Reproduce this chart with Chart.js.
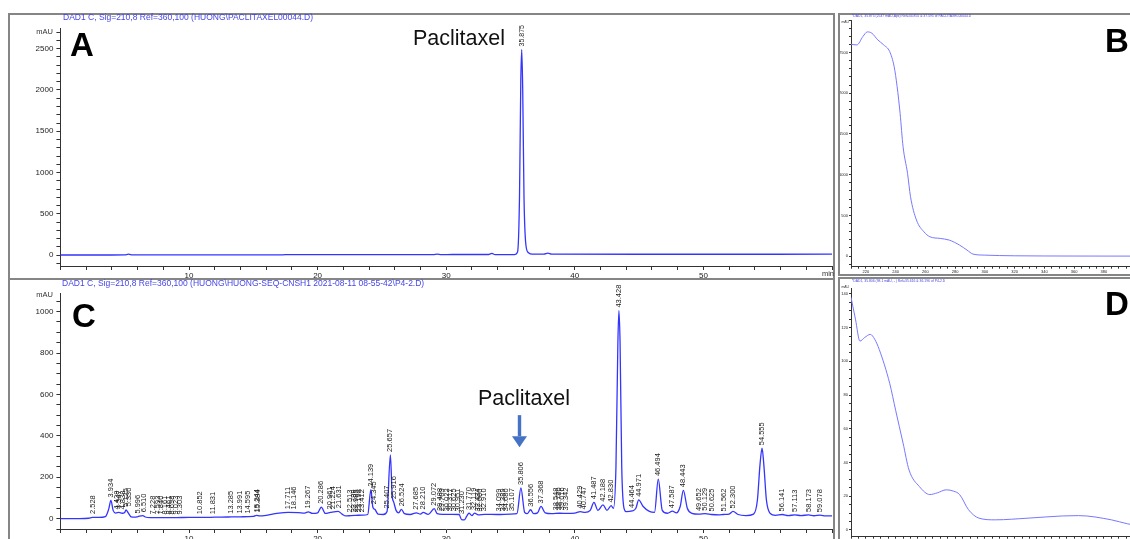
<!DOCTYPE html>
<html>
<head>
<meta charset="utf-8">
<script src="https://cdn.jsdelivr.net/npm/chart.js@4.4.1/dist/chart.umd.min.js"></script>
<style>
  html, body { margin: 0; padding: 0; background: #fff; }
  body { width: 1130px; height: 539px; position: relative; overflow: hidden; }
  canvas { position: absolute; }
  #overlay { left: 0; top: 0; pointer-events: none; z-index: 5; }
</style>
</head>
<body>
<canvas id="chartA" width="825" height="265" style="left:9px;top:14px"></canvas>
<canvas id="chartB" width="300" height="262" style="left:838px;top:14px"></canvas>
<canvas id="chartC" width="825" height="262" style="left:9px;top:281px"></canvas>
<canvas id="chartD" width="300" height="265" style="left:838px;top:279px"></canvas>
<canvas id="overlay" width="1130" height="539"></canvas>
<script>
// ---- data ----
// A: paclitaxel standard, 210 nm
const timeA = [0, 3.5, 5.0, 5.3, 5.6, 10, 17, 17.5, 25, 29.0,
  29.3, 29.6, 30.5, 33.3, 33.55, 33.8, 35.3, 35.55, 35.7, 35.8,
  35.875, 35.95, 36.05, 36.2, 36.4, 36.7, 37.6, 37.9, 38.2, 45,
  50, 60];
const signalA = [2, 2, 4, 12, 3, 3, 3, 6, 6, 7,
  12, 7, 8, 8, 22, 6, 6, 40, 700, 2100,
  2490, 2000, 700, 120, 30, 12, 12, 24, 12, 11,
  11, 12];
const peakTimesA = [35.875];
const peakLevelsA = [2490];

// C: sample extract, 210 nm
const timeC = [
  0, 1.5, 2.2, 2.5, 3.0, 3.5, 3.75, 3.93, 4.1, 4.3,
  4.55, 4.8, 5.0, 5.1, 5.25, 5.5, 5.8, 6.0, 6.4, 6.6,
  7.0, 8.0, 9.0, 10.0, 11.0, 12.0, 13.0, 14.0, 15.0, 15.25,
  15.5, 16.0, 16.5, 17.0, 17.7, 18.5, 19.0, 19.27, 19.6, 20.0,
  20.29, 20.6, 21.0, 21.6, 21.9, 22.2, 22.6, 23.0, 23.5, 23.9,
  24.14, 24.3, 24.45, 24.7, 25.1, 25.4, 25.66, 25.8, 25.92, 26.1,
  26.3, 26.52, 26.75, 27.2, 27.68, 28.0, 28.21, 28.6, 29.07, 29.3,
  29.7, 30.5, 31.0, 31.2, 31.4, 31.6, 31.77, 32.0, 32.2, 32.5,
  33.0, 34.0, 35.0, 35.5, 35.81, 36.1, 36.3, 36.56, 36.8, 37.1,
  37.37, 37.7, 38.2, 38.8, 39.5, 40.0, 40.43, 40.8, 41.2, 41.49,
  41.8, 42.19, 42.5, 42.83, 43.0, 43.2, 43.35, 43.43, 43.52, 43.65,
  43.85, 44.0, 44.46, 44.75, 44.97, 45.3, 45.8, 46.2, 46.49, 46.8,
  47.2, 47.59, 47.9, 48.2, 48.44, 48.75, 49.1, 49.65, 50.13, 50.63,
  51.2, 51.56, 52.0, 52.3, 52.7, 53.3, 53.9, 54.2, 54.4, 54.56,
  54.7, 54.9, 55.2, 55.6, 56.14, 56.6, 57.11, 57.6, 58.17, 58.6,
  59.08, 59.5, 60];
const signalC = [
  0, 0, 2, 6, 6, 10, 45, 88, 40, 27,
  30, 26, 30, 42, 30, 9, 7, 9, 15, 8,
  5, 5, 5, 6, 6, 7, 8, 9, 11, 16,
  13, 16, 22, 27, 30, 29, 27, 33, 25, 28,
  56, 25, 30, 35, 22, 13, 15, 16, 17, 20,
  140, 55, 45, 22, 20, 35, 308, 110, 80, 40,
  28, 45, 24, 20, 28, 22, 30, 21, 48, 24,
  21, 21, 20, -5, -6, 12, 27, 15, 27, 18,
  21, 20, 22, 24, 148, 30, 24, 43, 24, 28,
  59, 28, 24, 26, 25, 27, 34, 30, 40, 79,
  40, 67, 40, 63, 50, 250, 850, 1005, 850, 250,
  45, 34, 37, 50, 91, 60, 35, 30, 191, 40,
  26, 36, 28, 60, 137, 50, 26, 22, 24, 20,
  18, 20, 22, 35, 20, 15, 22, 90, 260, 340,
  260, 90, 25, 16, 20, 15, 18, 15, 18, 14,
  17, 13, 13];
const peakTimesC = [
  2.528, 3.934, 4.428, 4.547, 4.838, 5.125, 5.330, 5.996, 6.510, 7.228,
  7.593, 7.840, 8.161, 8.461, 8.698, 9.023, 9.303, 10.852, 11.831, 13.285,
  13.991, 14.595, 15.244, 15.384, 17.711, 18.146, 19.267, 20.286, 20.961, 21.224,
  21.631, 22.513, 22.789, 22.985, 23.198, 23.412, 24.139, 24.345, 25.407, 25.657,
  25.916, 26.524, 27.685, 28.210, 29.072, 29.488, 29.703, 30.022, 30.317, 30.625,
  30.951, 31.230, 31.770, 32.119, 32.434, 32.660, 32.910, 34.099, 34.389, 34.680,
  35.107, 35.806, 36.556, 37.368, 38.548, 38.780, 39.016, 39.342, 40.429, 40.747,
  41.487, 42.188, 42.830, 43.428, 44.464, 44.971, 46.494, 47.587, 48.443, 49.652,
  50.129, 50.625, 51.562, 52.300, 54.555, 56.141, 57.113, 58.173, 59.078];
const peakLevelsC = [
  8, 88, 30, 32, 30, 42, 45, 10, 16, 6,
  6, 6, 6, 6, 6, 6, 6, 7, 7, 9,
  10, 10, 17, 15, 31, 30, 34, 57, 30, 32,
  36, 15, 16, 16, 17, 17, 140, 55, 35, 308,
  80, 45, 28, 30, 48, 23, 21, 21, 21, 21,
  20, 8, 27, 27, 20, 20, 21, 20, 21, 21,
  22, 148, 43, 59, 25, 26, 26, 25, 34, 30,
  79, 67, 63, 1005, 37, 91, 191, 36, 137, 22,
  24, 20, 20, 35, 340, 20, 18, 18, 17];

// B, D: UV spectra at the peak apex
const waveB = [210, 214, 218, 221, 224, 228, 232, 236, 239, 241,
  243, 245, 248, 250, 254, 259, 263, 270, 276, 283,
  288, 292, 300, 320, 360, 400];
const absB = [2602, 2594, 2697, 2754, 2738, 2656, 2594, 2512, 2328, 2082,
  1754, 1344, 1016, 730, 443, 299, 238, 217, 197, 135,
  74, 25, 12, 4, 1, 0];
const waveD = [210, 213, 216, 219, 223, 226, 229, 236, 240, 245,
  249, 256, 263, 268, 274, 279, 283, 289, 296, 307,
  329, 352, 363, 385, 396, 400];
const absD = [138, 125, 112, 114, 116, 113, 107, 87, 71, 51.5,
  35.6, 25.7, 21, 22, 23.8, 23, 21, 12, 7, 6,
  7, 8.3, 8.5, 6, 3.6, 3];

// tick labels
const timeTickLabels = [10, 20, 30, 40, 50];
const mauTicksA = [0, 500, 1000, 1500, 2000, 2500];
const mauTicksC = [0, 200, 400, 600, 800, 1000];
const mauTicksB = [0, 500, 1000, 1500, 2000, 2500];
const mauTicksD = [0, 20, 40, 60, 80, 100, 120, 140];
const nmTickLabels = [220, 240, 260, 280, 300, 320, 340, 360, 380, 400];

const titleA = 'DAD1 C, Sig=210,8 Ref=360,100 (HUONG\\PACLITAXEL00044.D)';
const titleC = 'DAD1 C, Sig=210,8 Ref=360,100 (HUONG\\HUONG-SEQ-CNSH1 2021-08-11 08-55-42\\P4-2.D)';
const titleB = '*DAD1, 35.875 (2547 mAU,Apx) Ref=34.855 & 37.595 of PACLITAXEL00044.D';
const titleD = '*DAD1, 35.806 (98.1 mAU, - ) Ref=35.616 & 36.196 of P4-2.D';

// ---- drawing ----
const family = '"Liberation Sans", Arial, sans-serif';
const axisColor = '#333';

const peakLabels = {
  id: 'peakLabels',
  afterDatasetsDraw(chart, args, opts) {
    if (!opts.times) return;
    const ctx = chart.ctx, x = chart.scales.x, y = chart.scales.y;
    ctx.save();
    ctx.font = opts.font;
    ctx.fillStyle = opts.color;
    ctx.textAlign = 'left';
    ctx.textBaseline = 'middle';
    opts.times.forEach((t, i) => {
      ctx.save();
      ctx.translate(x.getPixelForValue(t), y.getPixelForValue(opts.levels[i]) - 3);
      ctx.rotate(-Math.PI / 2);
      ctx.fillText(t.toFixed(3), 0, 0);
      ctx.restore();
    });
    ctx.restore();
  }
};

const arrow = {
  id: 'arrow',
  afterDatasetsDraw(chart, args, a) {
    if (a.time === undefined) return;
    const ctx = chart.ctx, x = chart.scales.x, y = chart.scales.y;
    const xp = x.getPixelForValue(a.time);
    const y0 = y.getPixelForValue(a.from), y1 = y.getPixelForValue(a.to);
    ctx.save();
    ctx.fillStyle = a.color;
    ctx.fillRect(xp - 1.7, y0, 3.4, y1 - y0 - 11);
    ctx.beginPath();
    ctx.moveTo(xp - 7.5, y1 - 11);
    ctx.lineTo(xp + 7.5, y1 - 11);
    ctx.lineTo(xp, y1);
    ctx.closePath();
    ctx.fill();
    ctx.restore();
  }
};

function axis(o) {
  return {
    type: 'linear',
    min: o.min,
    max: o.max,
    border: { display: true, color: axisColor, width: 1 },
    grid: { drawOnChartArea: false, drawTicks: true, tickLength: o.tick, color: axisColor, lineWidth: 1 },
    ticks: {
      stepSize: o.step,
      autoSkip: false,
      includeBounds: false,
      maxRotation: 0,
      padding: o.pad,
      color: '#222',
      font: { family: family, size: o.font },
      callback: v => o.labels.includes(v) ? String(v) : ''
    },
    afterFit: s => { if (s.isHorizontal()) s.height = o.size; else s.width = o.size; }
  };
}

function trace(xs, ys, color, width) {
  return {
    data: xs.map((x, i) => ({ x: x, y: ys[i] })),
    borderColor: color,
    borderWidth: width,
    pointRadius: 0,
    cubicInterpolationMode: 'monotone',
    fill: false
  };
}

function makeChart(id, dataset, padding, xAxis, yAxis, extra) {
  return new Chart(document.getElementById(id), {
    type: 'line',
    data: { datasets: [dataset] },
    options: {
      responsive: false,
      animation: false,
      devicePixelRatio: 1,
      layout: { padding: padding },
      plugins: Object.assign({ legend: { display: false }, tooltip: { enabled: false } }, extra || {}),
      scales: { x: xAxis, y: yAxis }
    },
    plugins: [peakLabels, arrow]
  });
}

const traceBlue = 'rgb(52,52,255)';
const specBlue = 'rgb(120,120,255)';

makeChart('chartA', trace(timeA, signalA, traceBlue, 1.3),
  { left: 0, top: 14, right: 2, bottom: 0 },
  axis({ min: 0, max: 60, step: 2, labels: timeTickLabels, tick: 4, pad: 1, font: 8, size: 13 }),
  axis({ min: -131, max: 2750, step: 100, labels: mauTicksA, tick: 4, pad: 3, font: 8, size: 51.4 }),
  { peakLabels: { times: peakTimesA, levels: peakLevelsA, font: '7px ' + family, color: '#1a1a1a' } });

makeChart('chartC', trace(timeC, signalC, traceBlue, 1.3),
  { left: 0, top: 12, right: 2, bottom: 0 },
  axis({ min: 0, max: 60, step: 2, labels: timeTickLabels, tick: 4, pad: 1, font: 8, size: 14 }),
  axis({ min: -50, max: 1090, step: 50, labels: mauTicksC, tick: 4, pad: 3, font: 8, size: 51.4 }),
  { peakLabels: { times: peakTimesC, levels: peakLevelsC, font: '7.5px ' + family, color: '#1a1a1a' },
    arrow: { time: 35.7, from: 500, to: 345, color: '#4472c4' } });

makeChart('chartB', trace(waveB, absB, specBlue, 1),
  { left: 0, top: 6, right: 2, bottom: 0 },
  axis({ min: 210, max: 400, step: 5, labels: nmTickLabels, tick: 2, pad: 1, font: 4, size: 9.3 }),
  axis({ min: -130, max: 2900, step: 100, labels: mauTicksB, tick: 2, pad: 1, font: 4, size: 13 }));

makeChart('chartD', trace(waveD, absD, specBlue, 1),
  { left: 0, top: 9, right: 2, bottom: 0 },
  axis({ min: 210, max: 400, step: 5, labels: nmTickLabels, tick: 2, pad: 1, font: 4, size: 7.3 }),
  axis({ min: -4, max: 143.5, step: 5, labels: mauTicksD, tick: 2, pad: 1, font: 4, size: 13 }));

// frames, headers and panel letters
const o = document.getElementById('overlay').getContext('2d');
o.strokeStyle = '#858585';
o.lineWidth = 2;
o.strokeRect(9, 14, 825, 265);
o.strokeRect(9, 279, 825, 280);
o.strokeRect(839, 14, 320, 261);
o.strokeRect(839, 278, 320, 280);

o.textBaseline = 'middle';
o.fillStyle = '#4646e6';
o.font = '8.5px ' + family;
o.fillText(titleA, 63, 18);
o.fillText(titleC, 62, 283.5);
o.font = '3.4px ' + family;
o.fillText(titleB, 852, 16);
o.fillText(titleD, 852, 281.5);

o.fillStyle = '#333';
o.textAlign = 'right';
o.font = '7.5px ' + family;
o.fillText('mAU', 53, 32);
o.fillText('mAU', 53, 295);
o.fillText('min', 834, 274);
o.font = '3.4px ' + family;
o.fillText('mAU', 849, 22);
o.fillText('mAU', 849, 287);

o.textAlign = 'left';
o.textBaseline = 'alphabetic';
o.fillStyle = '#000';
o.font = 'bold 33px ' + family;
o.fillText('A', 70, 56);
o.fillText('B', 1105, 52);
o.fillText('C', 72, 327);
o.fillText('D', 1105, 315);

o.fillStyle = '#111';
o.font = '21.5px ' + family;
o.fillText('Paclitaxel', 413, 45);
o.fillText('Paclitaxel', 478, 405);
</script>
</body>
</html>
